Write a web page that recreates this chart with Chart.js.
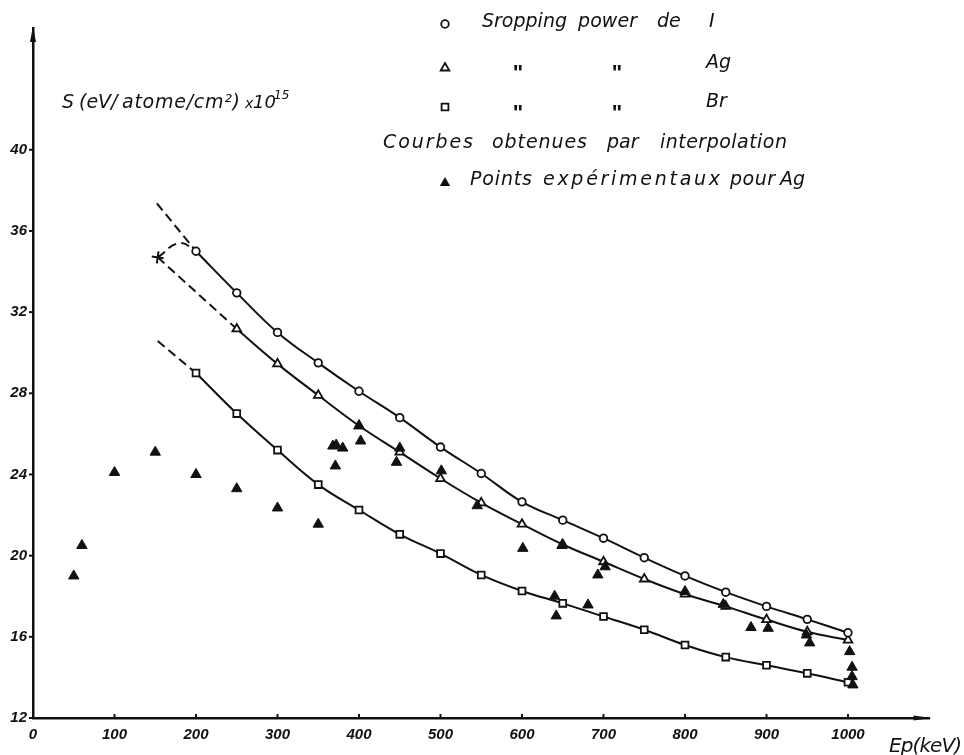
<!DOCTYPE html>
<html>
<head>
<meta charset="utf-8">
<script src="https://cdn.jsdelivr.net/npm/chart.js@4.4.1/dist/chart.umd.min.js"></script>
<style>
  html, body { margin: 0; padding: 0; background: #fff; }
</style>
</head>
<body>
<canvas id="myChart" width="964" height="755"></canvas>
<script>
// Stopping power curves (I, Ag, Br) + experimental points for Ag

// tick labels
const xTicks = [0, 100, 200, 300, 400, 500, 600, 700, 800, 900, 1000];
const yTicks = [12, 16, 20, 24, 28, 32, 36, 40];

// interpolated curves
const iX = [200, 250, 300, 350, 400, 450, 500, 550, 600, 650, 700, 750, 800, 850, 900, 950, 1000];
const iY = [35.0, 32.95, 31.0, 29.5, 28.1, 26.8, 25.35, 24.05, 22.65, 21.75, 20.86, 19.9, 19.0, 18.2, 17.5, 16.86, 16.2];

const agX = [250, 300, 350, 400, 450, 500, 550, 600, 650, 700, 750, 800, 850, 900, 950, 1000];
const agY = [31.17, 29.45, 27.9, 26.4, 25.1, 23.8, 22.6, 21.55, 20.55, 19.7, 18.85, 18.1, 17.5, 16.85, 16.25, 15.84];

const brX = [200, 250, 300, 350, 400, 450, 500, 550, 600, 650, 700, 750, 800, 850, 900, 950, 1000];
const brY = [29.0, 27.0, 25.2, 23.5, 22.25, 21.05, 20.1, 19.05, 18.26, 17.65, 17.0, 16.35, 15.6, 15.0, 14.6, 14.2, 13.76];

// dashed extrapolations below 200 keV
const iDashX = [152, 200];
const iDashY = [37.36, 35.0];
const agDashX = [153, 250];
const agDashY = [34.7, 31.17];
const agBumpX = [153, 180, 200];
const agBumpY = [34.7, 35.4, 35.0];
const brDashX = [153, 200];
const brDashY = [30.58, 29.0];

// experimental points for Ag (filled triangles)
const expX = [50, 60, 100, 150, 200, 250, 300, 350, 368, 372, 380, 371, 400, 402, 450, 446, 501, 545,
              601, 649, 640, 642, 681, 693, 702, 800, 847, 881, 902, 949, 953, 1002, 1005, 1005, 1006];
const expY = [19.0, 20.5, 24.1, 25.1, 24.0, 23.3, 22.35, 21.55, 25.4, 25.45, 25.3, 24.42, 26.4, 25.65, 25.3, 24.6, 24.18, 22.46,
              20.36, 20.5, 18.0, 17.03, 17.57, 19.05, 19.45, 18.23, 17.6, 16.46, 16.42, 16.09, 15.7, 15.27, 14.5, 14.04, 13.63];

const ink = '#111';
const TICK_FONT = '"Liberation Sans", Arial, sans-serif';
const TEXT_FONT = '"DejaVu Sans", sans-serif';

function pts(xs, ys) {
    return xs.map((x, i) => ({ x: x, y: ys[i] }));
}

function curve(xs, ys, style, radius) {
    return {
        data: pts(xs, ys),
        showLine: true,
        borderColor: ink,
        borderWidth: 2,
        tension: 0.4,
        pointStyle: style,
        pointRadius: radius,
        pointBorderWidth: 1.8,
        pointBorderColor: ink,
        pointBackgroundColor: '#fff',
        order: 2
    };
}

function dashed(xs, ys, tension) {
    return {
        data: pts(xs, ys),
        showLine: true,
        borderColor: ink,
        borderWidth: 2,
        borderDash: [9, 5],
        tension: tension,
        pointRadius: 0,
        order: 3
    };
}

// spread a word over a given width (natural width if none given)
function fitText(ctx, text, x, y, w) {
    ctx.letterSpacing = '0px';
    if (w) {
        const natural = ctx.measureText(text).width;
        const n = text.length;
        const ls = n > 1 ? (w - natural) / (n - 1) : 0;
        ctx.letterSpacing = ls + 'px';
    }
    ctx.fillText(text, x, y);
    ctx.letterSpacing = '0px';
}

function marker(ctx, type, x, y) {
    ctx.beginPath();
    if (type === 'circle') {
        ctx.arc(x, y, 3.8, 0, Math.PI * 2);
    } else if (type === 'square') {
        ctx.rect(x - 3.4, y - 3.4, 6.8, 6.8);
    } else {
        const r = type === 'filled' ? 6 : 5;
        ctx.moveTo(x, y - r);
        ctx.lineTo(x + r * 0.866, y + r * 0.5);
        ctx.lineTo(x - r * 0.866, y + r * 0.5);
        ctx.closePath();
    }
    if (type === 'filled') {
        ctx.fill();
    } else {
        ctx.fillStyle = '#fff';
        ctx.fill();
        ctx.fillStyle = ink;
        ctx.stroke();
    }
}

const decorations = {
    id: 'decorations',
    afterDraw(chart) {
        const ctx = chart.ctx;
        const xs = chart.scales.x;
        const ys = chart.scales.y;
        const left = chart.chartArea.left;
        const bottom = chart.chartArea.bottom;
        const top = chart.chartArea.top;
        const right = chart.chartArea.right;

        ctx.save();
        ctx.strokeStyle = ink;
        ctx.fillStyle = ink;
        ctx.lineWidth = 2;

        // small ticks
        xTicks.forEach(v => {
            if (v === 0) return;
            const px = xs.getPixelForValue(v);
            ctx.beginPath();
            ctx.moveTo(px, bottom);
            ctx.lineTo(px, bottom - 4);
            ctx.stroke();
        });
        yTicks.forEach(v => {
            const py = ys.getPixelForValue(v);
            ctx.beginPath();
            ctx.moveTo(left - 4, py);
            ctx.lineTo(left, py);
            ctx.stroke();
        });

        // arrow heads
        ctx.beginPath();
        ctx.moveTo(left, top - 2);
        ctx.lineTo(left + 3, top + 14);
        ctx.lineTo(left - 3, top + 14);
        ctx.closePath();
        ctx.fill();
        ctx.beginPath();
        ctx.moveTo(right + 2, bottom);
        ctx.lineTo(right - 16, bottom - 2.5);
        ctx.lineTo(right - 16, bottom + 2.5);
        ctx.closePath();
        ctx.fill();

        // axis titles
        ctx.textAlign = 'left';
        ctx.textBaseline = 'alphabetic';
        ctx.font = 'oblique 19px ' + TEXT_FONT;
        fitText(ctx, 'S', 62, 108);
        fitText(ctx, '(eV/', 79, 108);
        fitText(ctx, 'atome/cm²)', 122, 108, 118);
        ctx.font = 'oblique 14px ' + TEXT_FONT;
        fitText(ctx, 'x', 245, 108);
        ctx.font = 'oblique 18px ' + TEXT_FONT;
        fitText(ctx, '10', 253, 108);
        ctx.font = 'oblique 12px ' + TEXT_FONT;
        fitText(ctx, '15', 274, 99);
        ctx.font = 'oblique 20px ' + TEXT_FONT;
        fitText(ctx, 'Ep(keV)', 889, 752, 73);

        // legend
        ctx.lineWidth = 1.8;
        marker(ctx, 'circle', 445, 24);
        marker(ctx, 'triangle', 445, 68);
        marker(ctx, 'square', 445, 107);
        marker(ctx, 'filled', 445, 183);

        ctx.font = 'oblique 19px ' + TEXT_FONT;
        fitText(ctx, 'Sropping', 482, 27, 85);
        fitText(ctx, 'power', 578, 27, 59);
        fitText(ctx, 'de', 657, 27);
        fitText(ctx, 'I', 709, 27);
        fitText(ctx, 'Ag', 706, 68);
        fitText(ctx, 'Br', 706, 107);
        fitText(ctx, 'Courbes', 383, 148, 90);
        fitText(ctx, 'obtenues', 492, 148, 95);
        fitText(ctx, 'par', 607, 148);
        fitText(ctx, 'interpolation', 660, 148, 127);
        fitText(ctx, 'Points', 470, 185, 62);
        fitText(ctx, 'expérimentaux', 543, 185, 177);
        fitText(ctx, 'pour', 730, 185, 45);
        fitText(ctx, 'Ag', 780, 185);

        // ditto marks
        ctx.font = 'bold 22px ' + TICK_FONT;
        ctx.textAlign = 'center';
        [[518, 80], [617, 80], [518, 120], [617, 120]].forEach(p => ctx.fillText('"', p[0], p[1]));

        ctx.restore();
    }
};

const tickFont = { family: TICK_FONT, size: 15, style: 'italic', weight: 'bold' };

new Chart(document.getElementById('myChart').getContext('2d'), {
    type: 'scatter',
    data: {
        datasets: [
            curve(iX, iY, 'circle', 3.8),
            curve(agX, agY, 'triangle', 5),
            curve(brX, brY, 'rect', 4.8),
            dashed(iDashX, iDashY, 0),
            dashed(agDashX, agDashY, 0),
            dashed(agBumpX, agBumpY, 0.5),
            dashed(brDashX, brDashY, 0),
            {
                data: pts([agDashX[0]], [agDashY[0]]),
                pointStyle: 'cross',
                pointRadius: 6,
                pointBorderWidth: 2,
                pointBorderColor: ink,
                rotation: 8,
                order: 1
            },
            {
                data: pts(expX, expY),
                pointStyle: 'triangle',
                pointRadius: 6,
                pointBorderWidth: 1,
                pointBorderColor: ink,
                pointBackgroundColor: ink,
                order: 0
            }
        ]
    },
    options: {
        responsive: false,
        animation: false,
        layout: { padding: { left: 0, right: 34.5, top: 28, bottom: 0 } },
        plugins: { legend: { display: false }, tooltip: { enabled: false } },
        scales: {
            x: {
                type: 'linear',
                min: 0,
                max: 1100,
                grid: { display: false, drawTicks: false },
                border: { display: true, color: ink, width: 2.5 },
                ticks: { color: ink, font: tickFont, padding: 8, maxRotation: 0, autoSkip: false, callback: v => String(v) },
                afterBuildTicks: s => { s.ticks = xTicks.map(v => ({ value: v })); },
                afterFit: s => { s.height = 37; }
            },
            y: {
                type: 'linear',
                min: 12,
                max: 46,
                grid: { display: false, drawTicks: false },
                border: { display: true, color: ink, width: 2.5 },
                ticks: { color: ink, font: tickFont, padding: 6, autoSkip: false, callback: v => String(v) },
                afterBuildTicks: s => { s.ticks = yTicks.map(v => ({ value: v })); },
                afterFit: s => { s.width = 33; }
            }
        }
    },
    plugins: [decorations]
});
</script>
</body>
</html>
